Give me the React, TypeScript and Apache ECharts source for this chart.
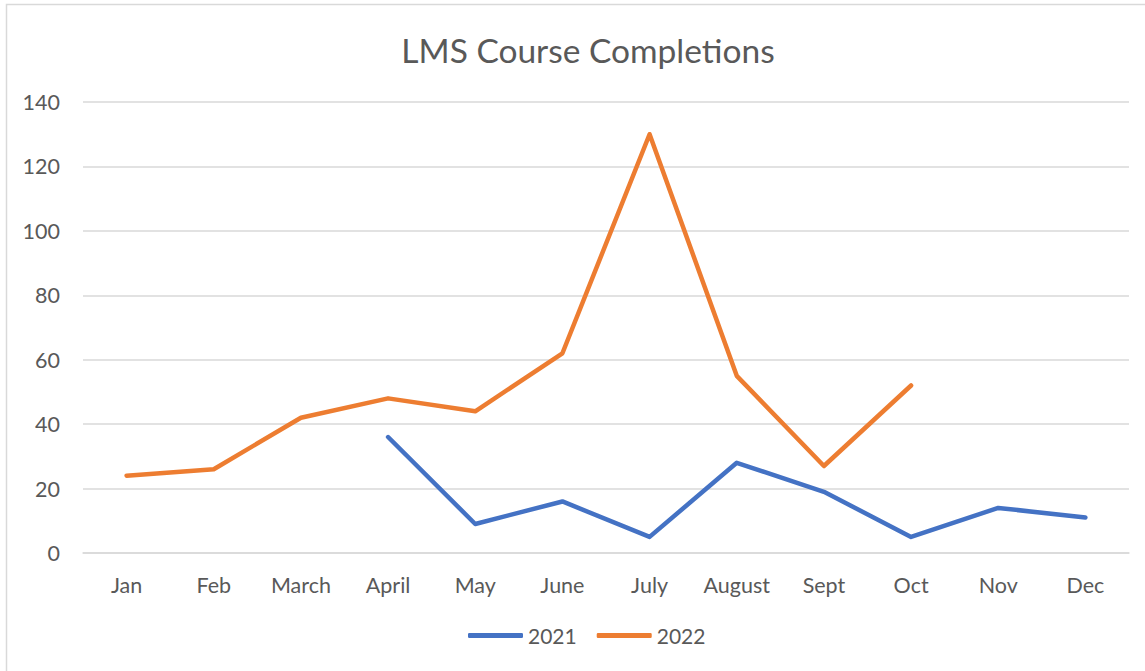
import React, { useEffect, useRef } from "react";
import * as echarts from "echarts";

const months = ["Jan", "Feb", "March", "April", "May", "June", "July", "August", "Sept", "Oct", "Nov", "Dec"];
const values2021 = [null, null, null, 36, 9, 16, 5, 28, 19, 5, 14, 11];
const values2022 = [24, 26, 42, 48, 44, 62, 130, 55, 27, 52, null, null];
const yTicks = [0, 140, 20];

export default function App() {
  const ref = useRef<HTMLDivElement>(null);
  useEffect(() => {
    const chart = echarts.init(ref.current!, null, { renderer: "svg" });
    const font = "Lato, 'Open Sans', sans-serif";
    chart.setOption({
      animation: false,
      backgroundColor: "#ffffff",
      textStyle: { fontFamily: font },
      title: {
        text: "LMS Course Completions",
        left: 583,
        top: 28,
        textAlign: "center",
        textStyle: { fontSize: 33.5, fontWeight: "normal", color: "#595959", fontFamily: font },
      },
      graphic: [
        {
          type: "rect",
          shape: { x: 6.5, y: 4.5, width: 1300, height: 900 },
          style: { fill: "none", stroke: "#d9d9d9", lineWidth: 1.5 },
          silent: true,
        },
      ],
      legend: {
        data: ["2021", "2022"],
        left: 463,
        top: 620,
        icon: "roundRect",
        itemWidth: 55,
        itemHeight: 5,
        itemGap: 20,
        textStyle: { fontSize: 21, color: "#595959", fontFamily: font, padding: [0, 0, 0, 0] },
      },
      grid: { left: 83, right: 16, top: 102, bottom: 118, containLabel: false },
      xAxis: {
        type: "category",
        data: months,
        boundaryGap: true,
        axisLine: { show: true, lineStyle: { color: "#d9d9d9", width: 1.5 } },
        axisTick: { show: false },
        axisLabel: { color: "#595959", fontSize: 21.5, margin: 21, fontFamily: font },
      },
      yAxis: {
        type: "value",
        min: yTicks[0],
        max: yTicks[1],
        interval: yTicks[2],
        axisLine: { show: false },
        axisTick: { show: false },
        splitLine: { lineStyle: { color: "#d9d9d9", width: 1.5 } },
        axisLabel: { color: "#595959", fontSize: 21.5, margin: 23, fontFamily: font },
      },
      series: [
        {
          name: "2021",
          type: "line",
          data: values2021,
          symbol: "none",
          connectNulls: false,
          lineStyle: { color: "#4472C4", width: 4.5, cap: "round", join: "round" },
          itemStyle: { color: "#4472C4" },
        },
        {
          name: "2022",
          type: "line",
          data: values2022,
          symbol: "none",
          connectNulls: false,
          lineStyle: { color: "#ED7D31", width: 4.5, cap: "round", join: "round" },
          itemStyle: { color: "#ED7D31" },
        },
      ],
    });
    return () => chart.dispose();
  }, []);
  return (
    <div
      ref={ref}
      style={{ position: "fixed", left: 0, top: 0, width: 1145, height: 671 }}
    />
  );
}
